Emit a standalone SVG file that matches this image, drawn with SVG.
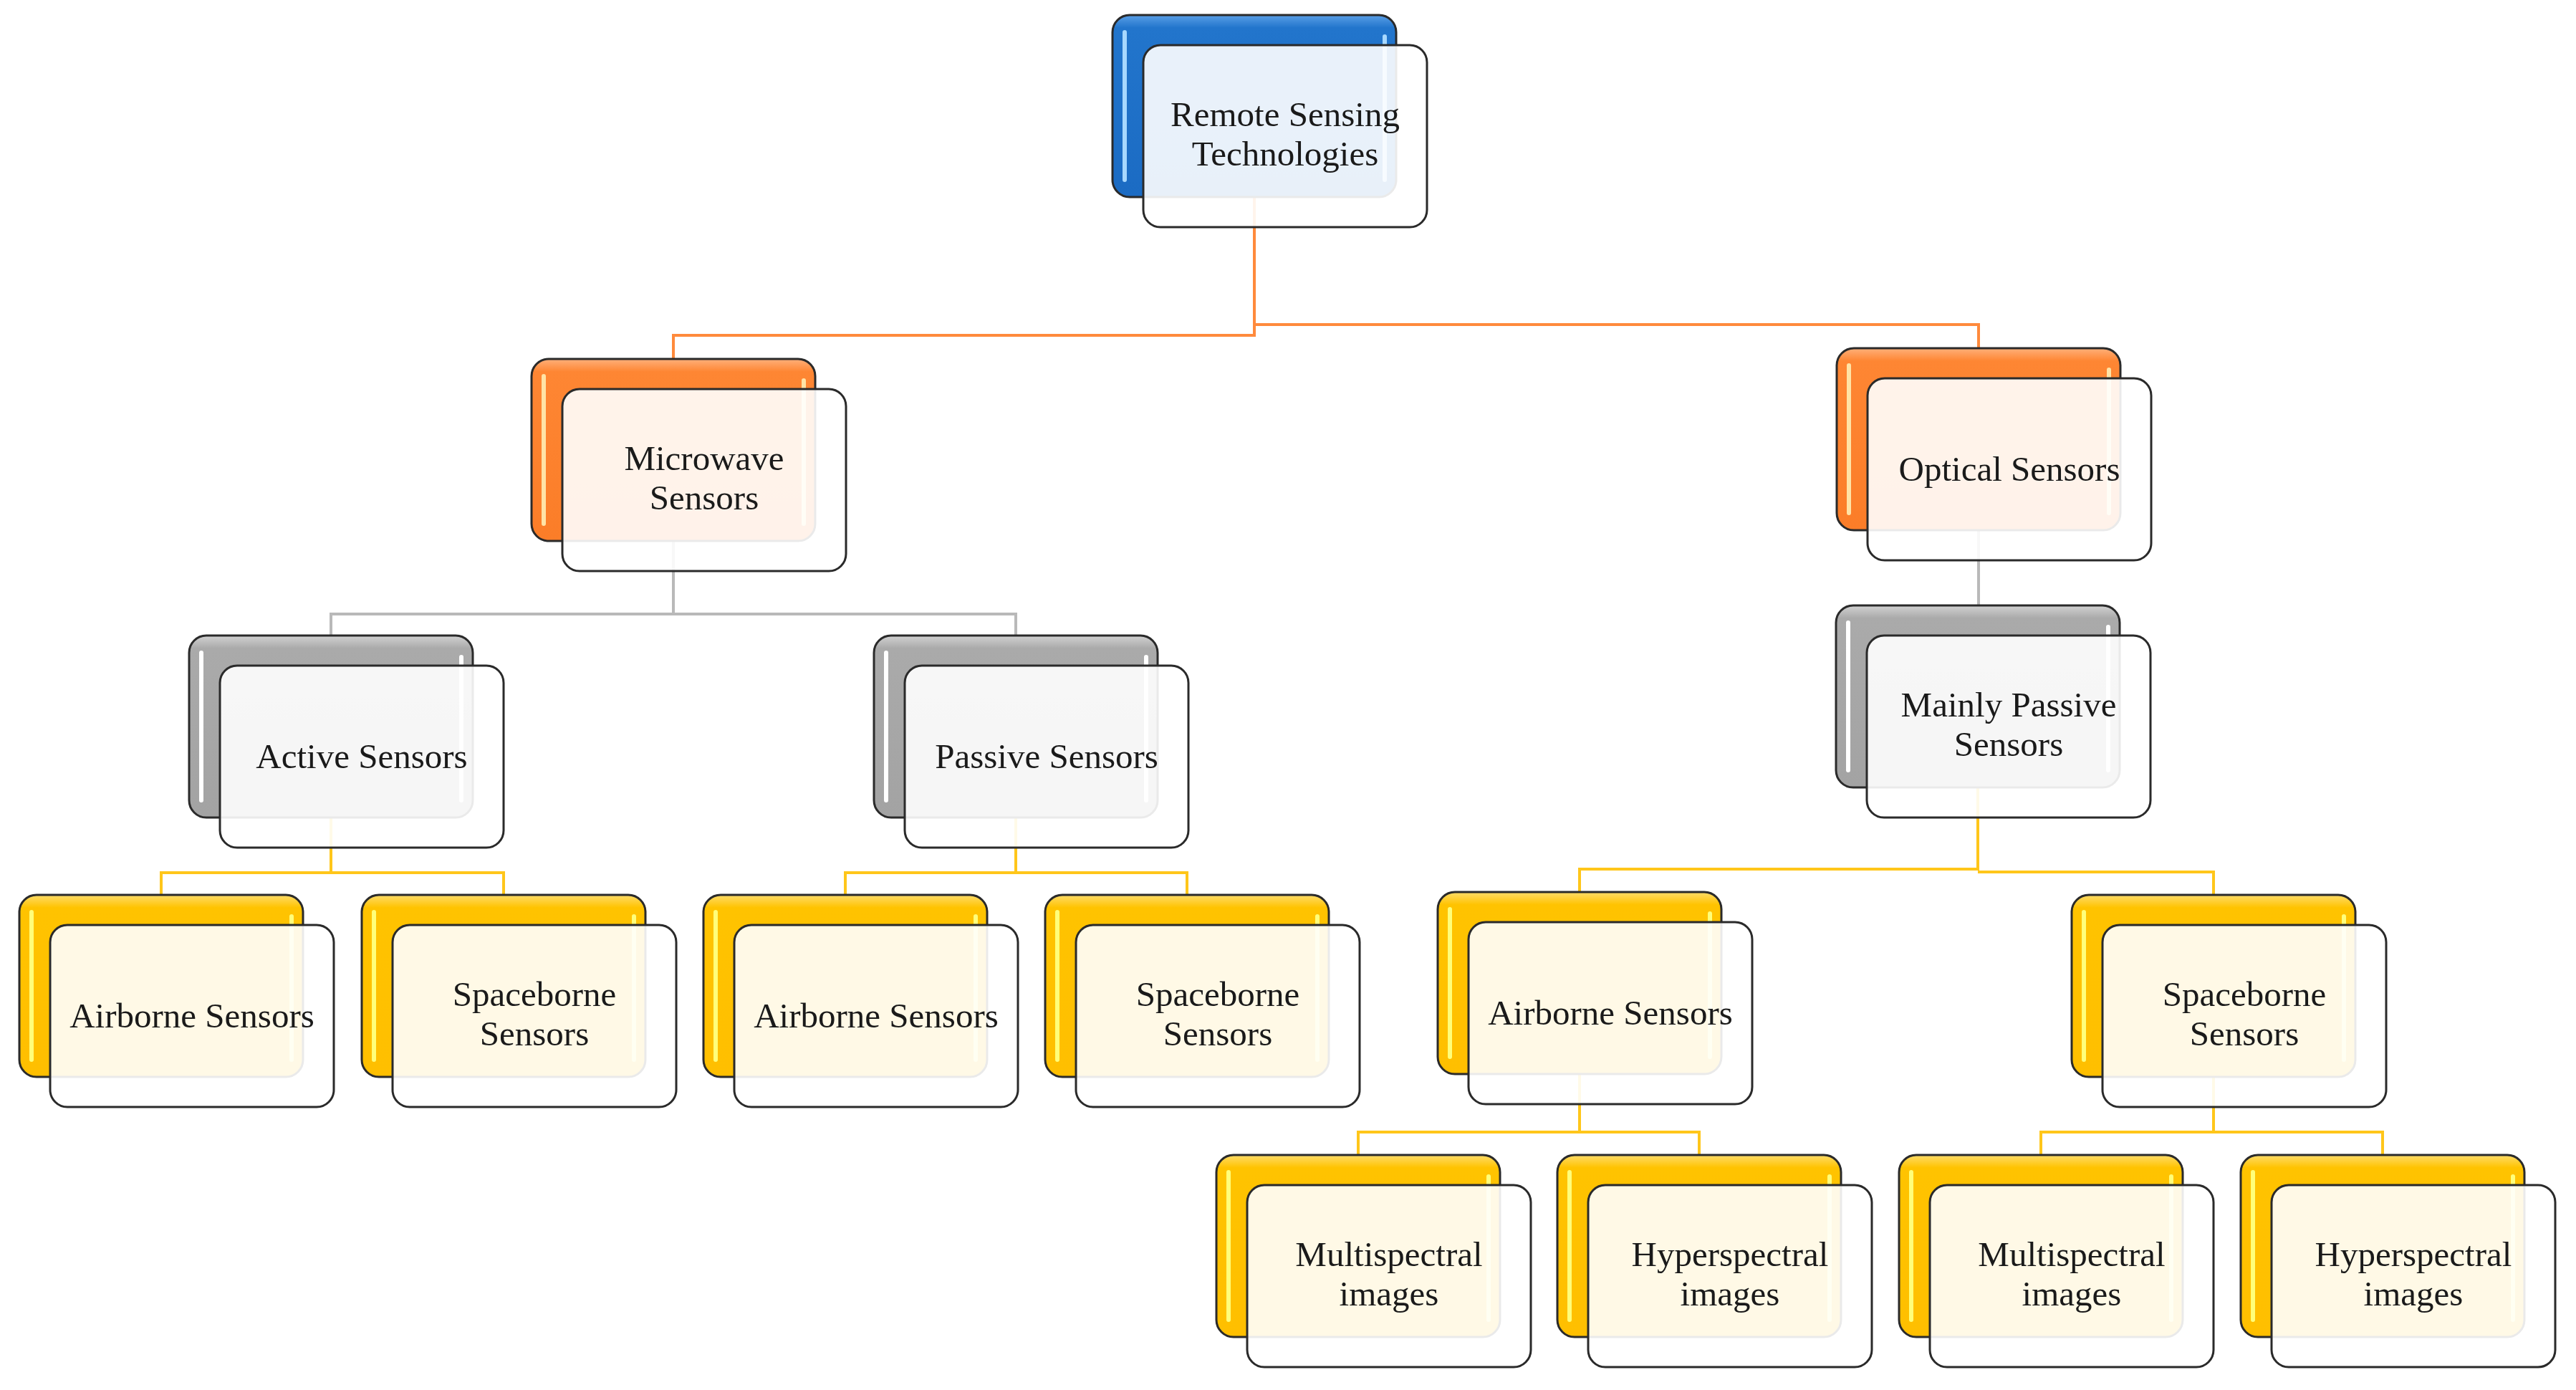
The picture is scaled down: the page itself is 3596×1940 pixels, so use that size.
<svg xmlns="http://www.w3.org/2000/svg" width="3596" height="1940" viewBox="0 0 3596 1940">
<defs>
<linearGradient id="gBlue" x1="0" y1="0" x2="0" y2="1">
<stop offset="0" stop-color="#5a9fe6"/><stop offset="0.07" stop-color="#2275cc"/><stop offset="1" stop-color="#1b6bc3"/>
</linearGradient>
<linearGradient id="gOrange" x1="0" y1="0" x2="0" y2="1">
<stop offset="0" stop-color="#ffb07a"/><stop offset="0.07" stop-color="#fe8633"/><stop offset="1" stop-color="#fb7d28"/>
</linearGradient>
<linearGradient id="gGray" x1="0" y1="0" x2="0" y2="1">
<stop offset="0" stop-color="#d2d2d2"/><stop offset="0.07" stop-color="#aaaaaa"/><stop offset="1" stop-color="#a3a3a3"/>
</linearGradient>
<linearGradient id="gYellow" x1="0" y1="0" x2="0" y2="1">
<stop offset="0" stop-color="#ffdc6a"/><stop offset="0.07" stop-color="#ffc300"/><stop offset="1" stop-color="#ffbf00"/>
</linearGradient>
</defs>
<style>
.bk{stroke:#2a2a2a;stroke-width:3}
.blue .bk{fill:url(#gBlue)}
.orange .bk{fill:url(#gOrange)}
.gray .bk{fill:url(#gGray)}
.yellow .bk{fill:url(#gYellow)}
.hl{stroke-width:6;stroke-linecap:round;fill:none}
.blue .hl{stroke:#a8d8ff}
.orange .hl{stroke:#ffe3a6}
.gray .hl{stroke:#ffffff}
.yellow .hl{stroke:#ffff7a}
.fr{fill:#ffffff;fill-opacity:0.9;stroke:#2a2a2a;stroke-width:3}
.lbl{font-family:"Liberation Serif","DejaVu Serif",serif;font-size:49px;fill:#1a1a1a;text-anchor:middle}
.cn{fill:none;stroke-width:4}
.c-or{stroke:#ff8a3c}
.c-gr{stroke:#b9b9b9}
.c-ye{stroke:#ffc61a}
</style>
<rect width="3596" height="1940" fill="#ffffff"/>
<g id="connectors">
<path class="cn c-or" d="M1751,240 V468 H940 V505 M1751,453 H2762 V490"/>
<path class="cn c-gr" d="M940,720 V857 H462 V890 M940,857 H1418 V890"/>
<path class="cn c-gr" d="M2762,740 V848"/>
<path class="cn c-ye" d="M462,1100 V1218 H225 V1252 M462,1218 H703 V1252"/>
<path class="cn c-ye" d="M1418,1100 V1218 H1180 V1252 M1418,1218 H1657 V1252"/>
<path class="cn c-ye" d="M2761,1050 V1213 H2205 V1248 M2761,1217 H3090 V1252"/>
<path class="cn c-ye" d="M2205,1450 V1580 H1896 V1615 M2205,1580 H2372 V1615"/>
<path class="cn c-ye" d="M3090,1450 V1580 H2849 V1615 M3090,1580 H3326 V1615"/>
</g>
<g id="root" class="blue" transform="translate(1553,21)">
<rect class="bk" x="0" y="0" width="396" height="254" rx="24"/>
<path class="hl" d="M17,24 V230 M380,30 V230"/>
<rect class="fr" x="43" y="42" width="396" height="254" rx="24"/>
<text class="lbl" x="241" y="155">Remote Sensing</text>
<text class="lbl" x="241" y="210">Technologies</text>
</g>
<g id="microwave" class="orange" transform="translate(742,501)">
<rect class="bk" x="0" y="0" width="396" height="254" rx="24"/>
<path class="hl" d="M17,24 V230 M380,30 V230"/>
<rect class="fr" x="43" y="42" width="396" height="254" rx="24"/>
<text class="lbl" x="241" y="155">Microwave</text>
<text class="lbl" x="241" y="210">Sensors</text>
</g>
<g id="optical" class="orange" transform="translate(2564,486)">
<rect class="bk" x="0" y="0" width="396" height="254" rx="24"/>
<path class="hl" d="M17,24 V230 M380,30 V230"/>
<rect class="fr" x="43" y="42" width="396" height="254" rx="24"/>
<text class="lbl" x="241" y="185">Optical Sensors</text>
</g>
<g id="mainly-passive" class="gray" transform="translate(2563,845)">
<rect class="bk" x="0" y="0" width="396" height="254" rx="24"/>
<path class="hl" d="M17,24 V230 M380,30 V230"/>
<rect class="fr" x="43" y="42" width="396" height="254" rx="24"/>
<text class="lbl" x="241" y="155">Mainly Passive</text>
<text class="lbl" x="241" y="210">Sensors</text>
</g>
<g id="active" class="gray" transform="translate(264,887)">
<rect class="bk" x="0" y="0" width="396" height="254" rx="24"/>
<path class="hl" d="M17,24 V230 M380,30 V230"/>
<rect class="fr" x="43" y="42" width="396" height="254" rx="24"/>
<text class="lbl" x="241" y="185">Active Sensors</text>
</g>
<g id="passive" class="gray" transform="translate(1220,887)">
<rect class="bk" x="0" y="0" width="396" height="254" rx="24"/>
<path class="hl" d="M17,24 V230 M380,30 V230"/>
<rect class="fr" x="43" y="42" width="396" height="254" rx="24"/>
<text class="lbl" x="241" y="185">Passive Sensors</text>
</g>
<g id="airborne-1" class="yellow" transform="translate(27,1249)">
<rect class="bk" x="0" y="0" width="396" height="254" rx="24"/>
<path class="hl" d="M17,24 V230 M380,30 V230"/>
<rect class="fr" x="43" y="42" width="396" height="254" rx="24"/>
<text class="lbl" x="241" y="185">Airborne Sensors</text>
</g>
<g id="spaceborne-1" class="yellow" transform="translate(505,1249)">
<rect class="bk" x="0" y="0" width="396" height="254" rx="24"/>
<path class="hl" d="M17,24 V230 M380,30 V230"/>
<rect class="fr" x="43" y="42" width="396" height="254" rx="24"/>
<text class="lbl" x="241" y="155">Spaceborne</text>
<text class="lbl" x="241" y="210">Sensors</text>
</g>
<g id="airborne-2" class="yellow" transform="translate(982,1249)">
<rect class="bk" x="0" y="0" width="396" height="254" rx="24"/>
<path class="hl" d="M17,24 V230 M380,30 V230"/>
<rect class="fr" x="43" y="42" width="396" height="254" rx="24"/>
<text class="lbl" x="241" y="185">Airborne Sensors</text>
</g>
<g id="spaceborne-2" class="yellow" transform="translate(1459,1249)">
<rect class="bk" x="0" y="0" width="396" height="254" rx="24"/>
<path class="hl" d="M17,24 V230 M380,30 V230"/>
<rect class="fr" x="43" y="42" width="396" height="254" rx="24"/>
<text class="lbl" x="241" y="155">Spaceborne</text>
<text class="lbl" x="241" y="210">Sensors</text>
</g>
<g id="airborne-3" class="yellow" transform="translate(2007,1245)">
<rect class="bk" x="0" y="0" width="396" height="254" rx="24"/>
<path class="hl" d="M17,24 V230 M380,30 V230"/>
<rect class="fr" x="43" y="42" width="396" height="254" rx="24"/>
<text class="lbl" x="241" y="185">Airborne Sensors</text>
</g>
<g id="spaceborne-3" class="yellow" transform="translate(2892,1249)">
<rect class="bk" x="0" y="0" width="396" height="254" rx="24"/>
<path class="hl" d="M17,24 V230 M380,30 V230"/>
<rect class="fr" x="43" y="42" width="396" height="254" rx="24"/>
<text class="lbl" x="241" y="155">Spaceborne</text>
<text class="lbl" x="241" y="210">Sensors</text>
</g>
<g id="multispectral-1" class="yellow" transform="translate(1698,1612)">
<rect class="bk" x="0" y="0" width="396" height="254" rx="24"/>
<path class="hl" d="M17,24 V230 M380,30 V230"/>
<rect class="fr" x="43" y="42" width="396" height="254" rx="24"/>
<text class="lbl" x="241" y="155">Multispectral</text>
<text class="lbl" x="241" y="210">images</text>
</g>
<g id="hyperspectral-1" class="yellow" transform="translate(2174,1612)">
<rect class="bk" x="0" y="0" width="396" height="254" rx="24"/>
<path class="hl" d="M17,24 V230 M380,30 V230"/>
<rect class="fr" x="43" y="42" width="396" height="254" rx="24"/>
<text class="lbl" x="241" y="155">Hyperspectral</text>
<text class="lbl" x="241" y="210">images</text>
</g>
<g id="multispectral-2" class="yellow" transform="translate(2651,1612)">
<rect class="bk" x="0" y="0" width="396" height="254" rx="24"/>
<path class="hl" d="M17,24 V230 M380,30 V230"/>
<rect class="fr" x="43" y="42" width="396" height="254" rx="24"/>
<text class="lbl" x="241" y="155">Multispectral</text>
<text class="lbl" x="241" y="210">images</text>
</g>
<g id="hyperspectral-2" class="yellow" transform="translate(3128,1612)">
<rect class="bk" x="0" y="0" width="396" height="254" rx="24"/>
<path class="hl" d="M17,24 V230 M380,30 V230"/>
<rect class="fr" x="43" y="42" width="396" height="254" rx="24"/>
<text class="lbl" x="241" y="155">Hyperspectral</text>
<text class="lbl" x="241" y="210">images</text>
</g>
</svg>
